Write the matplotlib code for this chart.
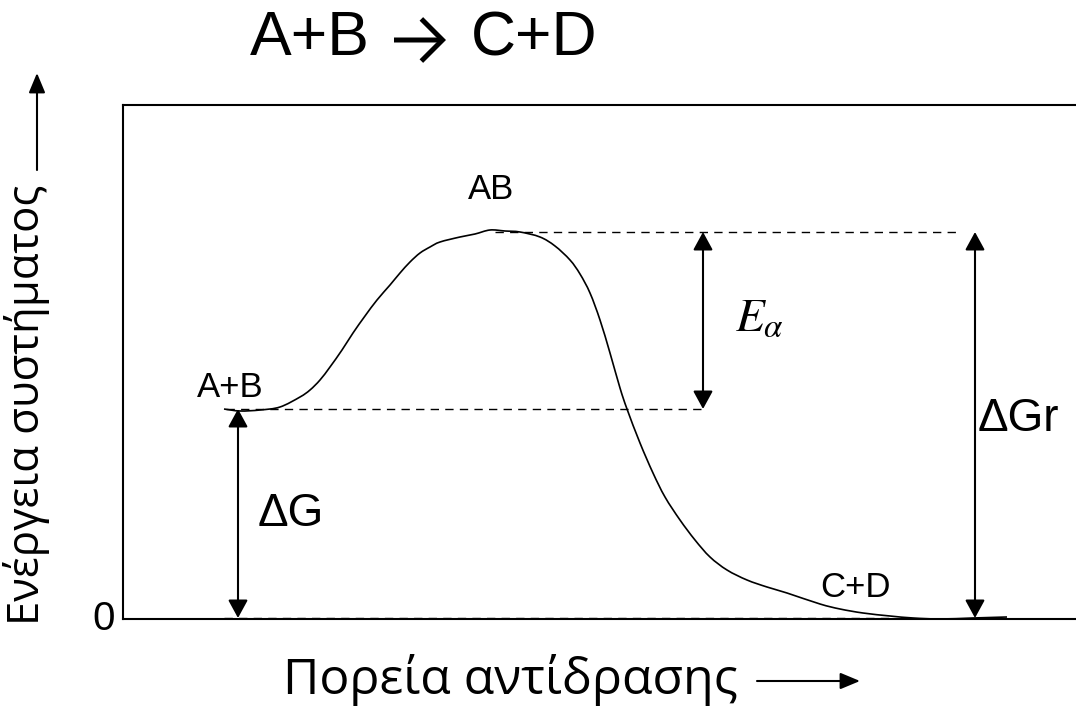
import matplotlib.pyplot as plt
from matplotlib.path import Path
from matplotlib.patches import PathPatch, FancyArrowPatch

# reaction coordinate (arbitrary units) and system energy along the path
reaction_coord = [224, 240, 260, 280, 300, 310, 320, 330, 342, 353, 365, 377, 390, 400,
                  410, 420, 430, 440, 460, 475, 490, 505, 520, 540, 555, 570, 580, 590,
                  600, 610, 620, 627, 640, 653, 665, 680, 695, 710, 727, 747, 767, 787,
                  820, 840, 863, 890, 913, 940, 973, 1007]
energy = [209, 207, 208, 211, 221, 228, 238, 251, 268, 285, 302, 318, 333, 345,
          356, 365, 371, 376, 381, 384, 388, 387, 386, 381, 372, 358, 344, 325,
          298, 265, 230, 209, 175, 145, 121, 98, 78, 61, 48, 38, 31, 25,
          14, 9, 5, 2, 0, -1, 0, 1]

E_reactants = 209
E_ts = 386
E_products = 0

fig = plt.figure(figsize=(10.76, 7.08), dpi=100)
ax = fig.add_axes([123 / 1076, 89 / 708, 980 / 1076, 514 / 708])
ax.set_xlim(123, 1103)
ax.set_ylim(-1, 513)
for s in ax.spines.values():
    s.set_linewidth(1.5)
ax.set_xticks([])
ax.set_yticks([])

# smooth curve through the points (Catmull-Rom as cubic Bezier segments)
pts = list(zip(reaction_coord, energy))
verts = [pts[0]]
codes = [Path.MOVETO]
n = len(pts)
for i in range(n - 1):
    p0 = pts[max(i - 1, 0)]
    p1 = pts[i]
    p2 = pts[i + 1]
    p3 = pts[min(i + 2, n - 1)]
    c1 = (p1[0] + (p2[0] - p0[0]) / 6, p1[1] + (p2[1] - p0[1]) / 6)
    c2 = (p2[0] - (p3[0] - p1[0]) / 6, p2[1] - (p3[1] - p1[1]) / 6)
    verts += [c1, c2, p2]
    codes += [Path.CURVE4] * 3
ax.add_patch(PathPatch(Path(verts, codes), facecolor='none', edgecolor='black', lw=1.2))

dash = dict(color='black', lw=1.0, dashes=(6, 4.5))
ax.plot([495, 960], [E_ts, E_ts], **dash)
ax.plot([226, 703], [E_reactants, E_reactants], **dash)
ax.plot([224, 890], [E_products, E_products], **dash)

arr = dict(arrowstyle='<|-|>,head_length=1.1,head_width=0.6', color='black',
           lw=1.5, shrinkA=0, shrinkB=0, mutation_scale=10)
ax.annotate('', xy=(238, E_products), xytext=(238, E_reactants), arrowprops=arr)
ax.annotate('', xy=(703, E_reactants), xytext=(703, E_ts), arrowprops=arr)
ax.annotate('', xy=(975, E_products), xytext=(975, E_ts), arrowprops=arr)

ax.text(230, 214, 'A+B', fontsize=25, family='Liberation Sans', ha='center', va='bottom')
ax.text(491, 412, 'AB', fontsize=25, family='Liberation Sans', ha='center', va='bottom')
ax.text(855, 14, 'C+D', fontsize=25, family='Liberation Sans', ha='center', va='bottom')
ax.text(258, 104, 'ΔG', fontsize=33, family='Liberation Sans', ha='left', va='center')
ax.text(978, 199, 'ΔGr', fontsize=33, family='Liberation Sans', ha='left', va='center')
plt.rcParams['mathtext.fontset'] = 'stix'
ax.text(735, 300, r'$E_\alpha$', fontsize=34, ha='left', va='center')
ax.text(-0.008, 0, '0', transform=ax.transAxes, fontsize=29,
        family='Liberation Sans', ha='right', va='center')

# title: A+B -> C+D with a bold chevron arrow
fig.text(250 / 1076, 1 - 55 / 708, 'A+B', fontsize=45,
         family='Liberation Sans', ha='left', va='baseline')
fig.text(597 / 1076, 1 - 55 / 708, 'C+D', fontsize=45,
         family='Liberation Sans', ha='right', va='baseline')
fig.add_artist(FancyArrowPatch(
    (394 / 1076, 1 - 40 / 708), (446 / 1076, 1 - 40 / 708),
    transform=fig.transFigure, arrowstyle='->,head_length=0.4,head_width=0.4',
    mutation_scale=38, lw=3.6, color='black', shrinkA=0, shrinkB=0,
    joinstyle='miter', capstyle='butt'))

fig.text(283 / 1076, 1 - 680 / 708, 'Πορεία αντίδρασης', fontsize=36,
         family='Open Sans', ha='left', va='center')
fig.text(27 / 1076, 1 - 625 / 708, 'Ενέργεια συστήματος', fontsize=31.5,
         family='Open Sans', rotation=90, ha='center', va='bottom')

larr = dict(arrowstyle='-|>,head_length=1.2,head_width=0.5', color='black',
            lw=1.5, shrinkA=0, shrinkB=0, mutation_scale=10)
fig.add_artist(FancyArrowPatch(
    (757 / 1076, 1 - 681 / 708), (860 / 1076, 1 - 681 / 708),
    transform=fig.transFigure, **larr))
fig.add_artist(FancyArrowPatch(
    (37 / 1076, 1 - 170 / 708), (37 / 1076, 1 - 73 / 708),
    transform=fig.transFigure, **larr))

fig.savefig('out.png', dpi=100)
